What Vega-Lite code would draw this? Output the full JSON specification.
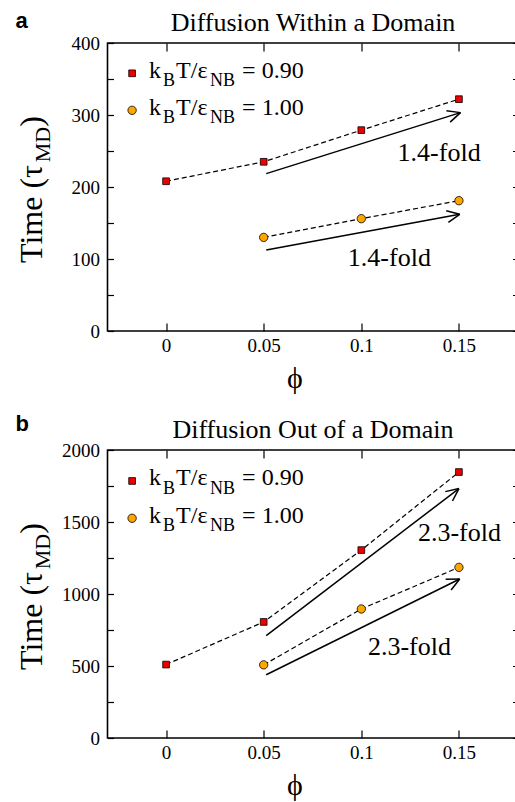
{
  "$schema": "https://vega.github.io/schema/vega-lite/v6.json",
  "background": "white",
  "padding": {"left": 14.5, "top": 9, "right": 0, "bottom": 0},
  "spacing": 18,
  "config": {
    "view": {"stroke": "black", "strokeWidth": 1.6},
    "axis": {"domain": false, "grid": false, "labelFont": "Liberation Serif", "labelFontSize": 19, "labelColor": "black", "titleFont": "Liberation Serif", "titleColor": "black", "titleFontWeight": "normal", "tickColor": "black", "tickWidth": 1.2, "labelFlush": false},
    "text": {"font": "Liberation Serif", "color": "black"}
  },
  "datasets": {
    "seriesA": [
      {"series": "0.90", "phi": 0, "time": 208},
      {"series": "0.90", "phi": 0.05, "time": 235},
      {"series": "0.90", "phi": 0.1, "time": 279},
      {"series": "0.90", "phi": 0.15, "time": 322},
      {"series": "1.00", "phi": 0.05, "time": 130},
      {"series": "1.00", "phi": 0.1, "time": 156},
      {"series": "1.00", "phi": 0.15, "time": 181}
    ],
    "seriesB": [
      {"series": "0.90", "phi": 0, "time": 510},
      {"series": "0.90", "phi": 0.05, "time": 806},
      {"series": "0.90", "phi": 0.1, "time": 1305},
      {"series": "0.90", "phi": 0.15, "time": 1847},
      {"series": "1.00", "phi": 0.05, "time": 508},
      {"series": "1.00", "phi": 0.1, "time": 896},
      {"series": "1.00", "phi": 0.15, "time": 1185}
    ],
    "arrowsA": [
      {"x": 0.0513, "y": 218.6, "x2": 0.1508, "y2": 303.3},
      {"x": 0.1508, "y": 303.3, "x2": 0.1436, "y2": 305.8},
      {"x": 0.1508, "y": 303.3, "x2": 0.1455, "y2": 290.1},
      {"x": 0.0513, "y": 112.5, "x2": 0.1504, "y2": 162.1},
      {"x": 0.1504, "y": 162.1, "x2": 0.1435, "y2": 166.9},
      {"x": 0.1504, "y": 162.1, "x2": 0.1446, "y2": 150.8}
    ],
    "arrowsB": [
      {"x": 0.0513, "y": 711, "x2": 0.15, "y2": 1732},
      {"x": 0.15, "y": 1732, "x2": 0.143, "y2": 1711},
      {"x": 0.15, "y": 1732, "x2": 0.1467, "y2": 1646},
      {"x": 0.0513, "y": 439, "x2": 0.1504, "y2": 1104},
      {"x": 0.1504, "y": 1104, "x2": 0.1432, "y2": 1102},
      {"x": 0.1504, "y": 1104, "x2": 0.146, "y2": 1028}
    ],
    "foldA": [
      {"phi": 0.1186, "time": 235.7, "label": "1.4-fold"},
      {"phi": 0.0931, "time": 90.3, "label": "1.4-fold"}
    ],
    "foldB": [
      {"phi": 0.129, "time": 1369, "label": "2.3-fold"},
      {"phi": 0.1034, "time": 577, "label": "2.3-fold"}
    ],
    "legendA": [
      {"phi": -0.0174, "time": 357.9, "series": "0.90", "eq": "= 0.90"},
      {"phi": -0.0174, "time": 306.5, "series": "1.00", "eq": "= 1.00"}
    ],
    "legendB": [
      {"phi": -0.0174, "time": 1785, "series": "0.90", "eq": "= 0.90"},
      {"phi": -0.0174, "time": 1526, "series": "1.00", "eq": "= 1.00"}
    ]
  },
  "vconcat": [
    {
      "width": 410,
      "height": 288,
      "title": {"text": "a", "anchor": "start", "frame": "bounds", "font": "Liberation Sans", "fontSize": 22, "fontWeight": "bold", "baseline": "alphabetic", "offset": 0, "dy": 40, "color": "black"},
      "resolve": {"axis": {"x": "independent", "y": "independent"}},
      "layer": [
        {
          "data": {"name": "seriesA"},
          "mark": {"type": "line", "color": "black", "strokeWidth": 1.2, "strokeDash": [5, 3]},
          "encoding": {
            "x": {"field": "phi", "type": "quantitative", "scale": {"domain": [-0.03, 0.18], "nice": false, "zero": false},
              "axis": {"orient": "bottom", "values": [0, 0.05, 0.1, 0.15], "format": "~g", "ticks": false, "labelPadding": 5, "title": "ϕ", "titleFontSize": 30, "titleX": 187, "titleY": 56, "titleAlign": "center", "titleBaseline": "alphabetic"}},
            "y": {"field": "time", "type": "quantitative", "scale": {"domain": [0, 400], "nice": false},
              "axis": {"orient": "left", "values": [0, 100, 200, 300, 400], "format": "d", "ticks": false, "labelPadding": 8, "title": "Time (τ\u2003\u2009)", "titleFontSize": 32, "titleX": -66, "titleY": 146, "titleAngle": 270, "titleAlign": "center", "titleBaseline": "alphabetic"}},
            "detail": {"field": "series"}
          }
        },
        {
          "data": {"name": "seriesA"},
          "mark": {"type": "point", "filled": true, "stroke": "black", "strokeWidth": 0.8, "opacity": 1},
          "encoding": {
            "x": {"field": "phi", "type": "quantitative",
              "axis": {"orient": "top", "labels": false, "tickSize": -8, "values": [0, 0.05, 0.1, 0.15], "title": "Diffusion Within a Domain", "titleFontSize": 26, "titlePadding": 11.6, "titleBaseline": "alphabetic"}},
            "y": {"field": "time", "type": "quantitative",
              "axis": {"orient": "right", "labels": false, "tickSize": -5, "values": [0, 50, 100, 150, 200, 250, 300, 350, 400], "title": null}},
            "shape": {"field": "series", "type": "nominal", "scale": {"domain": ["0.90", "1.00"], "range": ["square", "circle"]}, "legend": null},
            "fill": {"field": "series", "type": "nominal", "scale": {"domain": ["0.90", "1.00"], "range": ["#ee0000", "#ffa500"]}, "legend": null},
            "size": {"field": "series", "type": "nominal", "scale": {"domain": ["0.90", "1.00"], "range": [45, 70]}, "legend": null}
          }
        },
        {
          "data": {"name": "arrowsA"},
          "mark": {"type": "rule", "color": "black", "strokeWidth": 1.5},
          "encoding": {
            "x": {"field": "x", "type": "quantitative",
              "axis": {"orient": "bottom", "labels": false, "tickSize": -8, "values": [0, 0.05, 0.1, 0.15], "title": null}},
            "y": {"field": "y", "type": "quantitative",
              "axis": {"orient": "left", "labels": false, "tickSize": -6, "values": [0, 50, 100, 150, 200, 250, 300, 350, 400], "title": "MD", "titleFontSize": 22, "titleX": -58, "titleY": 101, "titleAngle": 270, "titleAlign": "center", "titleBaseline": "alphabetic"}},
            "x2": {"field": "x2"},
            "y2": {"field": "y2"}
          }
        },
        {
          "data": {"name": "foldA"},
          "mark": {"type": "text", "align": "left", "baseline": "alphabetic", "fontSize": 26},
          "encoding": {
            "x": {"field": "phi", "type": "quantitative", "axis": null},
            "y": {"field": "time", "type": "quantitative", "axis": null},
            "text": {"field": "label"}
          }
        },
        {
          "data": {"name": "legendA"},
          "mark": {"type": "point", "filled": true, "stroke": "black", "strokeWidth": 0.8, "opacity": 1},
          "encoding": {
            "x": {"field": "phi", "type": "quantitative", "axis": null},
            "y": {"field": "time", "type": "quantitative", "axis": null},
            "shape": {"field": "series", "type": "nominal", "legend": null},
            "fill": {"field": "series", "type": "nominal", "legend": null},
            "size": {"field": "series", "type": "nominal", "legend": null}
          }
        },
        {
          "data": {"name": "legendA"},
          "mark": {"type": "text", "text": "k", "align": "left", "baseline": "alphabetic", "fontSize": 24, "dx": 17, "dy": 4.3},
          "encoding": {"x": {"field": "phi", "type": "quantitative", "axis": null}, "y": {"field": "time", "type": "quantitative", "axis": null}}
        },
        {
          "data": {"name": "legendA"},
          "mark": {"type": "text", "text": "B", "align": "left", "baseline": "alphabetic", "fontSize": 18, "dx": 31, "dy": 12.7},
          "encoding": {"x": {"field": "phi", "type": "quantitative", "axis": null}, "y": {"field": "time", "type": "quantitative", "axis": null}}
        },
        {
          "data": {"name": "legendA"},
          "mark": {"type": "text", "text": "T/ε", "align": "left", "baseline": "alphabetic", "fontSize": 24, "dx": 44, "dy": 4.3},
          "encoding": {"x": {"field": "phi", "type": "quantitative", "axis": null}, "y": {"field": "time", "type": "quantitative", "axis": null}}
        },
        {
          "data": {"name": "legendA"},
          "mark": {"type": "text", "text": "NB", "align": "left", "baseline": "alphabetic", "fontSize": 18, "dx": 78, "dy": 12.7},
          "encoding": {"x": {"field": "phi", "type": "quantitative", "axis": null}, "y": {"field": "time", "type": "quantitative", "axis": null}}
        },
        {
          "data": {"name": "legendA"},
          "mark": {"type": "text", "align": "left", "baseline": "alphabetic", "fontSize": 24, "dx": 110, "dy": 4.3},
          "encoding": {"x": {"field": "phi", "type": "quantitative", "axis": null}, "y": {"field": "time", "type": "quantitative", "axis": null}, "text": {"field": "eq"}}
        }
      ]
    },
    {
      "width": 410,
      "height": 288,
      "title": {"text": "b", "anchor": "start", "frame": "bounds", "font": "Liberation Sans", "fontSize": 22, "fontWeight": "bold", "baseline": "alphabetic", "offset": 0, "dy": 36, "color": "black"},
      "resolve": {"axis": {"x": "independent", "y": "independent"}},
      "layer": [
        {
          "data": {"name": "seriesB"},
          "mark": {"type": "line", "color": "black", "strokeWidth": 1.2, "strokeDash": [5, 3]},
          "encoding": {
            "x": {"field": "phi", "type": "quantitative", "scale": {"domain": [-0.03, 0.18], "nice": false, "zero": false},
              "axis": {"orient": "bottom", "values": [0, 0.05, 0.1, 0.15], "format": "~g", "ticks": false, "labelPadding": 5, "title": "ϕ", "titleFontSize": 30, "titleX": 187, "titleY": 56, "titleAlign": "center", "titleBaseline": "alphabetic"}},
            "y": {"field": "time", "type": "quantitative", "scale": {"domain": [0, 2000], "nice": false},
              "axis": {"orient": "left", "values": [0, 500, 1000, 1500, 2000], "format": "d", "ticks": false, "labelPadding": 8, "title": "Time (τ\u2003\u2009)", "titleFontSize": 32, "titleX": -66, "titleY": 146, "titleAngle": 270, "titleAlign": "center", "titleBaseline": "alphabetic"}},
            "detail": {"field": "series"}
          }
        },
        {
          "data": {"name": "seriesB"},
          "mark": {"type": "point", "filled": true, "stroke": "black", "strokeWidth": 0.8, "opacity": 1},
          "encoding": {
            "x": {"field": "phi", "type": "quantitative",
              "axis": {"orient": "top", "labels": false, "tickSize": -8, "values": [0, 0.05, 0.1, 0.15], "title": "Diffusion Out of a Domain", "titleFontSize": 26, "titlePadding": 11.6, "titleBaseline": "alphabetic"}},
            "y": {"field": "time", "type": "quantitative",
              "axis": {"orient": "right", "labels": false, "tickSize": -5, "values": [0, 250, 500, 750, 1000, 1250, 1500, 1750, 2000], "title": null}},
            "shape": {"field": "series", "type": "nominal", "scale": {"domain": ["0.90", "1.00"], "range": ["square", "circle"]}, "legend": null},
            "fill": {"field": "series", "type": "nominal", "scale": {"domain": ["0.90", "1.00"], "range": ["#ee0000", "#ffa500"]}, "legend": null},
            "size": {"field": "series", "type": "nominal", "scale": {"domain": ["0.90", "1.00"], "range": [45, 70]}, "legend": null}
          }
        },
        {
          "data": {"name": "arrowsB"},
          "mark": {"type": "rule", "color": "black", "strokeWidth": 1.5},
          "encoding": {
            "x": {"field": "x", "type": "quantitative",
              "axis": {"orient": "bottom", "labels": false, "tickSize": -8, "values": [0, 0.05, 0.1, 0.15], "title": null}},
            "y": {"field": "y", "type": "quantitative",
              "axis": {"orient": "left", "labels": false, "tickSize": -6, "values": [0, 250, 500, 750, 1000, 1250, 1500, 1750, 2000], "title": "MD", "titleFontSize": 22, "titleX": -58, "titleY": 101, "titleAngle": 270, "titleAlign": "center", "titleBaseline": "alphabetic"}},
            "x2": {"field": "x2"},
            "y2": {"field": "y2"}
          }
        },
        {
          "data": {"name": "foldB"},
          "mark": {"type": "text", "align": "left", "baseline": "alphabetic", "fontSize": 26},
          "encoding": {
            "x": {"field": "phi", "type": "quantitative", "axis": null},
            "y": {"field": "time", "type": "quantitative", "axis": null},
            "text": {"field": "label"}
          }
        },
        {
          "data": {"name": "legendB"},
          "mark": {"type": "point", "filled": true, "stroke": "black", "strokeWidth": 0.8, "opacity": 1},
          "encoding": {
            "x": {"field": "phi", "type": "quantitative", "axis": null},
            "y": {"field": "time", "type": "quantitative", "axis": null},
            "shape": {"field": "series", "type": "nominal", "legend": null},
            "fill": {"field": "series", "type": "nominal", "legend": null},
            "size": {"field": "series", "type": "nominal", "legend": null}
          }
        },
        {
          "data": {"name": "legendB"},
          "mark": {"type": "text", "text": "k", "align": "left", "baseline": "alphabetic", "fontSize": 24, "dx": 17, "dy": 4.3},
          "encoding": {"x": {"field": "phi", "type": "quantitative", "axis": null}, "y": {"field": "time", "type": "quantitative", "axis": null}}
        },
        {
          "data": {"name": "legendB"},
          "mark": {"type": "text", "text": "B", "align": "left", "baseline": "alphabetic", "fontSize": 18, "dx": 31, "dy": 12.7},
          "encoding": {"x": {"field": "phi", "type": "quantitative", "axis": null}, "y": {"field": "time", "type": "quantitative", "axis": null}}
        },
        {
          "data": {"name": "legendB"},
          "mark": {"type": "text", "text": "T/ε", "align": "left", "baseline": "alphabetic", "fontSize": 24, "dx": 44, "dy": 4.3},
          "encoding": {"x": {"field": "phi", "type": "quantitative", "axis": null}, "y": {"field": "time", "type": "quantitative", "axis": null}}
        },
        {
          "data": {"name": "legendB"},
          "mark": {"type": "text", "text": "NB", "align": "left", "baseline": "alphabetic", "fontSize": 18, "dx": 78, "dy": 12.7},
          "encoding": {"x": {"field": "phi", "type": "quantitative", "axis": null}, "y": {"field": "time", "type": "quantitative", "axis": null}}
        },
        {
          "data": {"name": "legendB"},
          "mark": {"type": "text", "align": "left", "baseline": "alphabetic", "fontSize": 24, "dx": 110, "dy": 4.3},
          "encoding": {"x": {"field": "phi", "type": "quantitative", "axis": null}, "y": {"field": "time", "type": "quantitative", "axis": null}, "text": {"field": "eq"}}
        }
      ]
    }
  ]
}
